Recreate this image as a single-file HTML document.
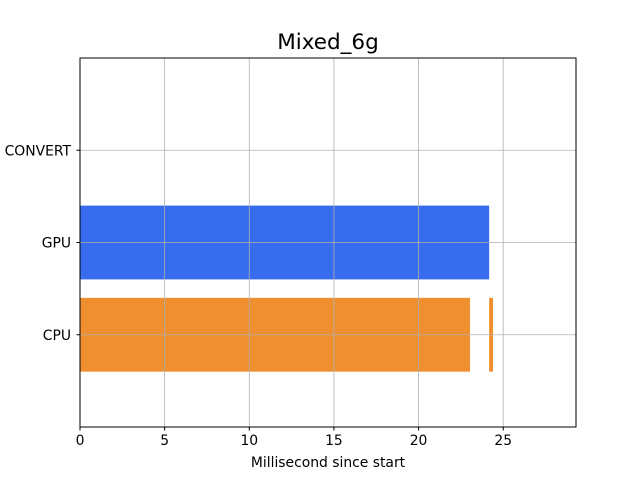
<!DOCTYPE html>
<html><head><meta charset="utf-8"><style>
body{margin:0;background:#fff;font-family:"DejaVu Sans",sans-serif;}
</style></head><body>
<svg id="chart" width="640" height="480" xmlns="http://www.w3.org/2000/svg">
<rect width="640" height="480" fill="#fff"/>
<text x="328" y="49" font-size="21.5" text-anchor="middle" font-family="DejaVu Sans, sans-serif">Mixed_6g</text>
<g id="grid"></g>
<g id="bars"></g>
<rect x="80" y="58" width="496" height="369" fill="none" stroke="#000" stroke-width="1"/>
<g id="axes" font-size="13.9" font-family="DejaVu Sans, sans-serif"></g>
<text x="328" y="467" font-size="13.9" text-anchor="middle" font-family="DejaVu Sans, sans-serif">Millisecond since start</text>
</svg>
<script>
const categories=["CPU","GPU","CONVERT"];
const barCategory=["CPU","CPU","GPU"];
const barStart=[0,24.17,0];
const barEnd=[23.04,24.4,24.17];
const barColor=["#ef8f2f","#ef8f2f","#366ced"];
const xTicks=[0,5,10,15,20,25];
const X0=80,X1=576,Y0=427,Y1=58,XMAX=29.3;
const xs=v=>X0+v/XMAX*(X1-X0);
const ys=i=>Y0-(i+1)/4*(Y0-Y1);
const NS="http://www.w3.org/2000/svg";
function mk(t,a,p){const e=document.createElementNS(NS,t);for(const k in a)e.setAttribute(k,a[k]);p.appendChild(e);return e;}
const grid=document.getElementById('grid'),bars=document.getElementById('bars'),axes=document.getElementById('axes');
xTicks.forEach(t=>{const x=xs(t);
 const g=mk('line',{x1:x,x2:x,y1:Y1,y2:Y0,stroke:'#b0b0b0','stroke-width':0.8},grid);
 
 
 const tk=mk('line',{x1:x,x2:x,y1:Y0,y2:Y0+3.5,stroke:'#000'},axes);
 
 
 const l=mk('text',{x:x,y:Y0+18,'text-anchor':'middle'},axes);l.textContent=t;
 
 
});
categories.forEach((c,i)=>{const y=ys(i);
 const g=mk('line',{x1:X0,x2:X1,y1:y,y2:y,stroke:'#b0b0b0','stroke-width':0.8},grid);
 
 
 const tk=mk('line',{x1:X0-3.5,x2:X0,y1:y,y2:y,stroke:'#000'},axes);
 
 
 const l=mk('text',{x:X0-9,y:y+5,'text-anchor':'end'},axes);l.textContent=c;
 
 
});
const bh=0.8*(Y0-Y1)/4;
barCategory.forEach((c,i)=>{const y=ys(categories.indexOf(c));
 const r=mk('rect',{x:xs(barStart[i]),y:y-bh/2,width:xs(barEnd[i])-xs(barStart[i]),height:bh,fill:barColor[i]},bars);
 
 
});
bars.parentNode.insertBefore(bars,grid);
</script>
</body></html>
